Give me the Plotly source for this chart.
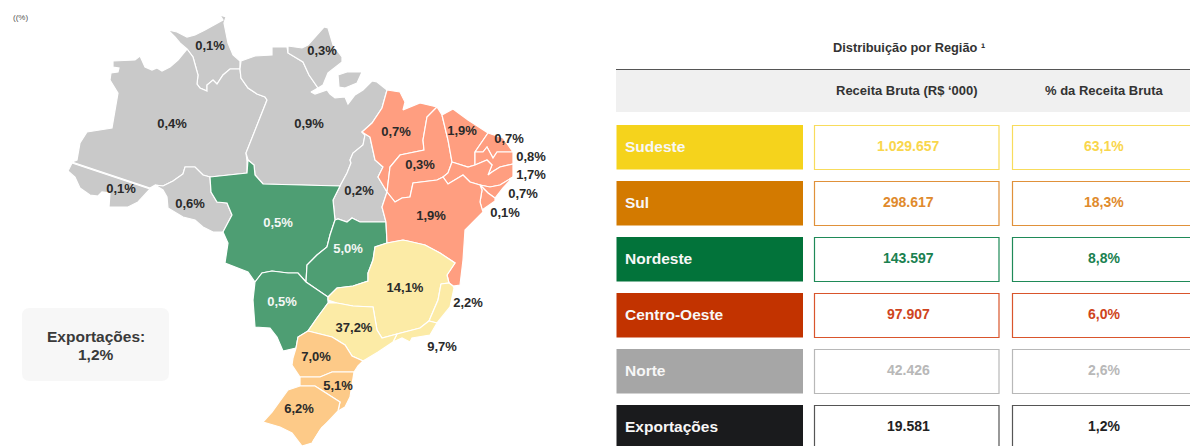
import plotly.graph_objects as go

# ---------- data ----------
TITLE = "Distribuição por Região ¹"
COLUMNS = ["Receita Bruta (R$ ‘000)", "% da Receita Bruta"]
REGIONS = ["Sudeste", "Sul", "Nordeste", "Centro-Oeste", "Norte", "Exportações"]
REVENUE = ["1.029.657", "298.617", "143.597", "97.907", "42.426", "19.581"]
SHARE = ["63,1%", "18,3%", "8,8%", "6,0%", "2,6%", "1,2%"]

# state outlines (pixel space of the reference)
RR = [(168,30),(177,32),(187,37),(195,35),(205,30),(217,23),(223,20),(220,15),(226,17),(224,23),(228,43),(233,55),(240,61),(240,69),(230,69),(223,75),(217,84),(213,80),(207,85),(207,91),(200,88),(197,84),(198,75),(193,57),(187,49),(180,43),(175,37)]
AM = [(187,49),(178,60),(170,67),(162,71),(157,68),(152,70),(145,67),(140,56),(135,60),(113,61),(113,67),(119,68),(118,72),(111,73),(110,80),(118,93),(112,128),(87,132),(80,143),(77,160),(72,162),(150,188),(155,185),(163,186),(173,181),(183,174),(185,167),(195,167),(203,175),(210,177),(247,173),(247,161),(246,153),(267,100),(265,97),(257,94),(248,88),(241,78),(240,69),(230,69),(223,75),(217,84),(213,80),(207,85),(207,91),(200,88),(197,84),(198,75),(193,57)]
AC = [(72,163),(68,171),(75,177),(80,188),(90,195),(98,196),(102,192),(110,193),(109,207),(128,207),(138,202),(150,189)]
RO = [(155,185),(163,186),(173,181),(183,174),(185,167),(195,167),(203,175),(210,177),(211,192),(217,202),(227,203),(232,215),(223,232),(213,232),(203,227),(195,220),(183,217),(168,208),(167,197),(163,190)]
PA = [(241,61),(255,56),(272,55),(272,47),(287,47),(288,53),(303,62),(309,75),(318,88),(311,92),(315,94),(327,90),(330,94),(335,98),(345,97),(348,104),(355,95),(363,90),(372,81),(377,82),(387,90),(382,108),(372,123),(362,132),(365,135),(363,145),(353,153),(350,160),(351,163),(347,173),(340,186),(263,184),(255,175),(254,165),(248,160),(246,153),(267,100),(265,97),(257,94),(248,88),(241,78),(240,69)]
AP = [(288,46),(302,48),(308,45),(317,35),(324,27),(328,28),(333,45),(342,57),(342,62),(328,73),(323,85),(318,88),(309,75),(303,62),(288,53)]
MARAJO = [(338,75),(347,72),(362,72),(357,83),(345,88),(339,87)]
TO = [(362,132),(370,137),(375,160),(383,167),(378,177),(387,192),(382,207),(386,222),(360,222),(352,218),(347,222),(338,219),(335,220),(333,200),(340,186),(347,173),(351,163),(350,160),(353,153),(363,145),(365,135)]
MT = [(210,177),(247,173),(248,160),(254,165),(255,175),(263,184),(340,186),(333,200),(335,220),(330,235),(327,247),(317,255),(307,265),(306,282),(298,273),(288,273),(272,271),(262,273),(255,282),(248,272),(225,263),(228,243),(223,232),(232,215),(227,203),(217,202),(211,192)]
GO = [(335,220),(338,219),(347,222),(352,218),(360,222),(386,222),(387,243),(375,247),(373,260),(368,273),(368,281),(353,286),(337,288),(328,297),(306,282),(307,265),(317,255),(327,247),(330,235)]
MS = [(255,282),(262,273),(272,271),(288,273),(298,273),(306,282),(328,297),(328,303),(317,318),(308,331),(298,337),(296,348),(283,351),(277,337),(270,328),(255,327),(253,300)]
MA = [(387,90),(400,92),(405,102),(403,110),(420,103),(437,107),(427,117),(423,140),(424,150),(400,155),(390,167),(387,192),(378,177),(383,167),(375,160),(370,137),(362,132),(372,123),(382,108)]
PI = [(437,107),(442,115),(448,140),(452,162),(448,173),(443,177),(437,180),(413,183),(410,197),(402,198),(395,202),(387,192),(390,167),(400,155),(424,150),(423,140),(427,117)]
CE = [(442,115),(453,109),(468,120),(488,133),(475,152),(475,165),(468,167),(452,162),(448,140)]
RN = [(488,133),(503,138),(513,152),(497,152),(493,158),(487,147),(483,152),(475,152)]
PB = [(475,152),(483,152),(487,147),(493,158),(497,152),(513,152),(513,164),(500,167),(492,172),(488,175),(492,165),(487,160),(475,165)]
PE = [(452,162),(468,167),(475,165),(487,160),(492,165),(488,175),(492,172),(500,167),(513,164),(513,177),(500,185),(490,187),(480,185),(470,182),(463,175),(448,184),(443,177),(448,173)]
AL = [(480,185),(490,187),(500,185),(513,177),(503,188),(495,198),(488,193)]
SE = [(480,185),(488,193),(495,198),(495,201),(482,210),(480,202),(482,190)]
BA = [(387,192),(395,202),(402,198),(410,197),(413,183),(437,180),(443,177),(448,184),(463,175),(470,182),(480,185),(482,190),(480,202),(482,210),(483,212),(465,230),(463,260),(460,285),(453,286),(449,283),(447,275),(455,263),(440,253),(425,245),(417,243),(408,241),(403,240),(387,243),(386,222),(382,207)]
MG = [(387,243),(403,240),(408,241),(417,243),(425,245),(440,253),(455,263),(447,275),(449,283),(441,284),(438,300),(429,321),(420,328),(397,334),(382,338),(377,330),(373,307),(353,306),(337,303),(328,300),(328,297),(337,288),(353,286),(368,281),(368,273),(373,260),(375,247)]
ES = [(441,284),(449,283),(453,286),(454,288),(450,307),(437,323),(429,321),(438,300)]
RJ = [(437,323),(430,335),(412,338),(410,342),(402,338),(393,342),(397,334),(420,328),(429,321)]
SP = [(328,303),(337,303),(353,306),(373,307),(377,330),(382,338),(397,334),(393,342),(378,352),(363,361),(352,356),(345,345),(332,337),(308,331),(317,318)]
PR = [(308,331),(298,337),(296,348),(293,358),(292,365),(300,377),(320,377),(332,372),(354,372),(358,366),(363,361),(352,356),(345,345),(332,337)]
SC = [(300,377),(320,377),(332,372),(354,372),(350,397),(345,407),(338,411),(340,402),(323,391),(315,386),(300,386)]
RS = [(288,390),(300,386),(315,386),(323,391),(340,402),(338,411),(320,430),(312,443),(302,446),(292,433),(280,427),(263,422),(272,412)]
LAGOA = [(331,420),(322,428),(313,442)]

NORTE_STATES = [RR, AM, AC, RO, PA, AP, MARAJO, TO]
CO_STATES = [MT, GO, MS]
NE_STATES = [MA, PI, CE, RN, PB, PE, AL, SE, BA]
SE_STATES = [MG, ES, RJ, SP]
SUL_STATES = [PR, SC, RS]

DARK_LABELS = ["0,1%","0,3%","0,4%","0,9%","0,7%","1,9%","0,7%","0,8%","1,7%","0,7%","0,1%","0,3%","0,2%","1,9%","0,1%","0,6%","14,1%","2,2%","37,2%","9,7%","7,0%","5,1%","6,2%"]
DARK_X = [210,322,172,309,396,462,509,531,531,523,505,420,359,431,121,190,405,468,354,442,316,338,299]
DARK_Y = [47,52,125,125,133,132,140,158,176,195,214,166,192,217,190,205,289,304,329,348,358,387,410]
LIGHT_LABELS = ["0,5%","5,0%","0,5%"]
LIGHT_X = [278,348,282]
LIGHT_Y = [224,250,303]

# ---------- styles ----------
FONT = "Liberation Sans"
C_NORTE, C_CO, C_NE, C_SE, C_SUL = "#c9c9c9", "#4e9e73", "#ff9e80", "#fcebA6", "#fdca88"
FILL = ["#f5d31c", "#d37a00", "#02733a", "#c23300", "#a6a6a6", "#1a1b1d"]
EDGE = ["#f8dc5c", "#e0913a", "#1f8a58", "#d9552c", "#b8b8b8", "#555555"]
TEXTC = ["#f9d64c", "#e08a2c", "#1a8150", "#cf4420", "#b8b8b8", "#222222"]
ROW_TOP = [125, 181, 237, 293, 349, 405]
ROW_H = 44.5

fig = go.Figure()

def add_states(states, color):
    for st in states:
        xs = [p[0] for p in st] + [st[0][0]]
        ys = [p[1] for p in st] + [st[0][1]]
        fig.add_trace(go.Scatter(x=xs, y=ys, mode="lines", fill="toself", fillcolor=color,
                                 line=dict(color="white", width=1.2), hoverinfo="skip", showlegend=False))

add_states(NORTE_STATES, C_NORTE)
add_states(CO_STATES, C_CO)
add_states(NE_STATES, C_NE)
add_states(SE_STATES, C_SE)
add_states(SUL_STATES, C_SUL)
fig.add_trace(go.Scatter(x=[p[0] for p in LAGOA], y=[p[1] for p in LAGOA], mode="lines",
                         line=dict(color="white", width=2), hoverinfo="skip", showlegend=False))

fig.add_trace(go.Scatter(x=DARK_X, y=DARK_Y, mode="text", text=DARK_LABELS,
                         textfont=dict(family=FONT, size=13, color="#2a2a2a", weight="bold"),
                         hoverinfo="skip", showlegend=False))
fig.add_trace(go.Scatter(x=LIGHT_X, y=LIGHT_Y, mode="text", text=LIGHT_LABELS,
                         textfont=dict(family=FONT, size=13, color="#f4f7f5", weight="bold"),
                         hoverinfo="skip", showlegend=False))

shapes, ann = [], []

def rect(x0, y0, x1, y1, fill, line=None, lw=1.2):
    shapes.append(dict(type="rect", xref="x", yref="y", x0=x0, y0=y0, x1=x1, y1=y1, fillcolor=fill,
                       line=dict(color=line or fill, width=lw if line else 0), layer="below"))

def text(x, y, s, size, color, bold=True, anchor="center"):
    ann.append(dict(x=x, y=y, xref="x", yref="y", text=f"<b>{s}</b>" if bold else s, showarrow=False,
                    xanchor=anchor, yanchor="middle", font=dict(family=FONT, size=size, color=color)))

# header
rect(616, 70, 1190, 112, "#f0f0f0")
shapes.append(dict(type="line", xref="x", yref="y", x0=616, x1=1190, y0=69.5, y1=69.5,
                   line=dict(color="#555555", width=1.2)))
text(908.5, 47, TITLE, 12.8, "#333333")
text(907, 90.5, COLUMNS[0], 13, "#333333")
text(1104, 90.5, COLUMNS[1], 13, "#333333")

# rows
for i, name in enumerate(REGIONS):
    t = ROW_TOP[i]
    rect(616.5, t, 803, t + ROW_H, FILL[i])
    rect(814.5, t + .5, 999, t + ROW_H, "white", EDGE[i])
    rect(1012.5, t + .5, 1195, t + ROW_H, "white", EDGE[i])
    text(623, t + 21, name, 15.5, "#f7f7f7", anchor="left")
    text(908, t + 21, REVENUE[i], 14, TEXTC[i])
    text(1104, t + 21, SHARE[i], 14, TEXTC[i])

# exports box
shapes.append(dict(type="path", xref="x", yref="y", layer="below", fillcolor="#f7f7f7", line=dict(width=0),
                   path="M 30 308 L 161 308 Q 169 308 169 316 L 169 373 Q 169 381 161 381 L 30 381 "
                        "Q 22 381 22 373 L 22 316 Q 22 308 30 308 Z"))
text(96, 336, "Exportações:", 15.5, "#3a3a3a")
text(96, 354, "1,2%", 15.5, "#3a3a3a")
text(20, 17, "((%)", 8, "#555555", bold=False)

fig.update_layout(width=1190, height=446, margin=dict(l=0, r=0, t=0, b=0),
                  paper_bgcolor="white", plot_bgcolor="white", shapes=shapes, annotations=ann,
                  showlegend=False,
                  xaxis=dict(range=[0, 1190], visible=False, fixedrange=True),
                  yaxis=dict(range=[446, 0], visible=False, fixedrange=True))

fig.write_html("out.html", config={"displayModeBar": False},
               post_script="document.body.style.margin='0';document.body.style.overflow='hidden';")
